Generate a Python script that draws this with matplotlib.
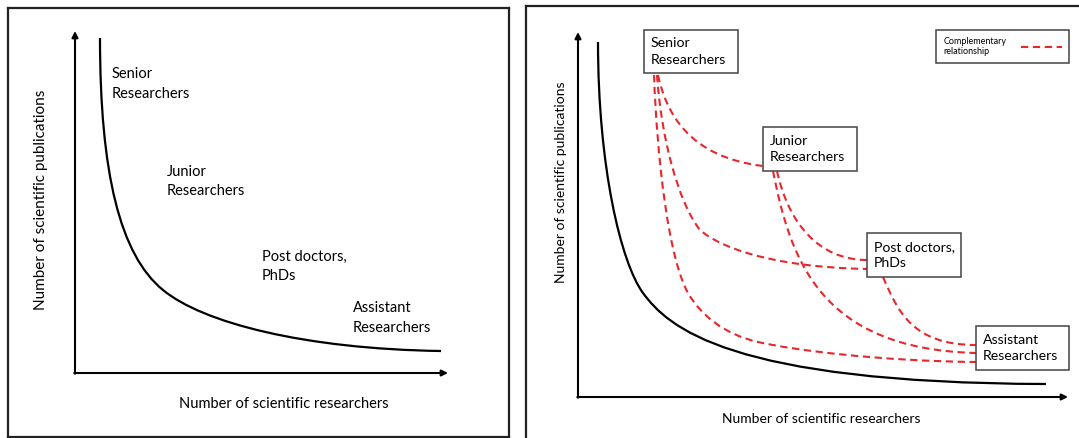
import matplotlib.pyplot as plt
from matplotlib.path import Path
from matplotlib.patches import PathPatch, Rectangle
from matplotlib.lines import Line2D

plt.rcParams['font.family'] = ['Lato', 'DejaVu Sans']

## Two sketch panels: publications vs researchers, and the same curve with
## the "complementary relationship" links between researcher groups.

groups = ["Senior\nResearchers", "Junior\nResearchers",
          "Post doctors,\nPhDs", "Assistant\nResearchers"]
x_title = "Number of scientific researchers"
y_title = "Number of scientific publications"
legend_label = "Complementary\nrelationship"

# curves given as cubic bezier control points (axis units)
left_curve = [(25, 335), (25, 200), (45, 118), (88, 83), (128, 50), (230, 24), (366, 22)]
right_curve = [(20, 355), (20, 230), (43, 134), (65, 104),
               (90, 70), (150, 14), (468, 13)]

senior_junior = [(80, 322), (88, 285), (110, 240), (185, 231)]
senior_postdoc = [(79, 322), (83, 260), (100, 195), (122, 167),
                  (140, 151), (190, 130), (289, 128)]
senior_assistant = [(76, 322), (79, 240), (90, 140), (110, 104),
                    (122, 83), (145, 63), (180, 55),
                    (215, 47), (300, 36), (398, 35)]
junior_postdoc = [(199, 226), (210, 175), (240, 137), (289, 137)]
junior_assistant = [(195, 226), (212, 140), (240, 48), (398, 44)]
postdoc_assistant = [(305, 120), (320, 85), (335, 52), (398, 52)]

RED = '#e8262b'
W, H = 1079, 438
fig = plt.figure(figsize=(W / 100, H / 100), dpi=100)


def panel(left, top, right, bottom, ox, oy):
    ax = fig.add_axes([left / W, 1 - bottom / H, (right - left) / W, (bottom - top) / H])
    ax.set_xlim(left - ox, right - ox)
    ax.set_ylim(oy - bottom, oy - top)
    ax.set_xticks([])
    ax.set_yticks([])
    for s in ax.spines.values():
        s.set_linewidth(1.6)
        s.set_color('#222222')
    return ax


def bezier(ax, pts, **kw):
    codes = [Path.MOVETO] + [Path.CURVE4] * (len(pts) - 1)
    ax.add_patch(PathPatch(Path(pts, codes), fill=False, **kw))


def arrows(ax, xmax, ymax):
    style = dict(arrowstyle='-|>', lw=1.5, color='black', mutation_scale=9,
                 shrinkA=0, shrinkB=0)
    ax.annotate('', xy=(0, ymax), xytext=(0, -0.7), arrowprops=style)
    ax.annotate('', xy=(xmax, 0), xytext=(-0.7, 0), arrowprops=style)


# left panel
ax1 = panel(8, 8, 509, 437, 75, 373)
arrows(ax1, 373, 342)
bezier(ax1, left_curve, lw=1.6, edgecolor='black')
for name, (tx, ty) in zip(groups, [(37, 289), (92, 191.5), (187, 106.5), (278, 55)]):
    ax1.text(tx, ty, name, ha='left', va='center', fontsize=10.5, linespacing=1.48)
ax1.text(-34, 173, y_title, rotation=90, ha='center', va='center', fontsize=11)
ax1.text(209, -31, x_title, ha='center', va='center', fontsize=10.5)

# right panel
ax2 = panel(526, 6, 1095, 450, 578, 397)
arrows(ax2, 490, 365)
bezier(ax2, right_curve, lw=1.6, edgecolor='black')
dash = (0, (3.5, 2.2))
for link in [senior_junior, senior_postdoc, senior_assistant,
             junior_postdoc, junior_assistant, postdoc_assistant]:
    bezier(ax2, link, lw=1.5, edgecolor=RED, linestyle=dash)

boxes = [(66, 324, 94, 43), (185, 226, 94, 44), (289, 120, 94, 44), (398, 27, 93, 44)]
for name, (bx, by, bw, bh) in zip(groups, boxes):
    ax2.add_patch(Rectangle((bx, by), bw, bh, facecolor='white', edgecolor='#444444',
                            lw=1.1, zorder=3))
    ax2.text(bx + 7, by + bh / 2, name, ha='left', va='center', fontsize=10.2,
             linespacing=1.44, zorder=4)
ax2.text(-17, 215, y_title, rotation=90, ha='center', va='center', fontsize=10)
ax2.text(243, -22, x_title, ha='center', va='center', fontsize=10)

handle = Line2D([], [], color=RED, lw=1.5, linestyle=dash)
leg = ax2.legend([handle], [legend_label], markerfirst=False, loc='upper right',
                 bbox_to_anchor=(1069 / W, 1 - 30 / H), bbox_transform=fig.transFigure,
                 borderaxespad=0, fontsize=6.5, handlelength=4.6, handletextpad=1.6,
                 borderpad=0.75, fancybox=False, edgecolor='#444444', framealpha=1)
leg.get_frame().set_linewidth(1.1)

fig.savefig('out.png', dpi=100)
